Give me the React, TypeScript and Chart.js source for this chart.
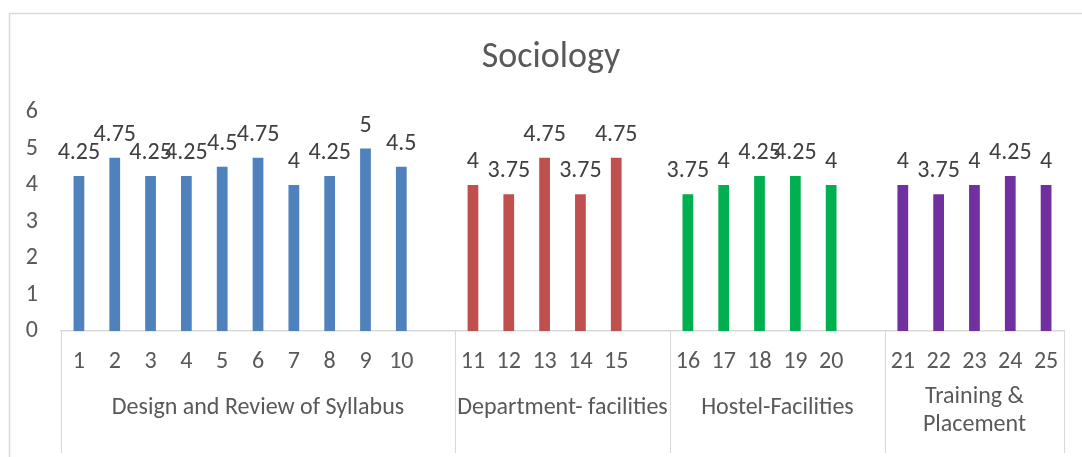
import React, { useEffect, useRef } from "react";
import { Chart, registerables } from "chart.js";

Chart.register(...registerables);

const FONT = "Carlito, Lato, sans-serif";

const chartTitle = "Sociology";
const groupLabels: string[][] = [
  ["Design and Review of Syllabus"],
  ["Department- facilities"],
  ["Hostel-Facilities"],
  ["Training &", "Placement"],
];
const designItems = ["1", "2", "3", "4", "5", "6", "7", "8", "9", "10"];
const departmentItems = ["11", "12", "13", "14", "15"];
const hostelItems = ["16", "17", "18", "19", "20"];
const trainingItems = ["21", "22", "23", "24", "25"];

const designValues = [4.25, 4.75, 4.25, 4.25, 4.5, 4.75, 4, 4.25, 5, 4.5];
const departmentValues = [4, 3.75, 4.75, 3.75, 4.75];
const hostelValues = [3.75, 4, 4.25, 4.25, 4];
const trainingValues = [4, 3.75, 4, 4.25, 4];

const groupColors = ["#4F81BD", "#C0504D", "#00B050", "#7030A0"];

const yMin = 0;
const yMax = 6;
const yStep = 1;

export default function App() {
  const ref = useRef<HTMLCanvasElement>(null);

  useEffect(() => {
    const canvas = ref.current;
    if (!canvas) return;
    const groupItems = [designItems, departmentItems, hostelItems, trainingItems];
    const groupValues = [designValues, departmentValues, hostelValues, trainingValues];
    const labels: string[] = [];
    const data: (number | null)[] = [];
    const colors: string[] = [];
    const ranges: { start: number; end: number }[] = [];
    groupValues.forEach((vals, g) => {
      const start = labels.length;
      vals.forEach((v, i) => {
        labels.push(groupItems[g][i]);
        data.push(v);
        colors.push(groupColors[g]);
      });
      if (g < groupValues.length - 1) {
        labels.push("");
        data.push(null);
        colors.push("rgba(0,0,0,0)");
      }
      ranges.push({ start, end: labels.length - 1 });
    });

    const decor = {
      id: "decor",
      afterDraw(chart: any) {
        const ctx = chart.ctx as CanvasRenderingContext2D;
        const xs = chart.scales.x;
        const area = chart.chartArea;
        ctx.save();
        // outer border
        ctx.strokeStyle = "#D9D9D9";
        ctx.lineWidth = 1.5;
        ctx.beginPath();
        ctx.moveTo(9.5, 457);
        ctx.lineTo(9.5, 13.5);
        ctx.lineTo(1082, 13.5);
        ctx.stroke();
        // title
        ctx.fillStyle = "#595959";
        ctx.font = `36px ${FONT}`;
        ctx.textAlign = "center";
        ctx.textBaseline = "alphabetic";
        ctx.fillText(chartTitle, 551, 67);
        // data labels
        const meta = chart.getDatasetMeta(0);
        ctx.fillStyle = "#404040";
        ctx.font = `24px ${FONT}`;
        meta.data.forEach((bar: any, i: number) => {
          const v = data[i];
          if (v == null) return;
          ctx.fillText(String(v), bar.x, bar.y - 17);
        });
        // separators and group labels
        const half = (xs.getPixelForValue(1) - xs.getPixelForValue(0)) / 2;
        ctx.strokeStyle = "#D9D9D9";
        ctx.lineWidth = 1;
        ctx.fillStyle = "#595959";
        ctx.textBaseline = "middle";
        ranges.forEach((r, g) => {
          const left = xs.getPixelForValue(r.start) - half;
          const right = xs.getPixelForValue(r.end) + half;
          ctx.beginPath();
          if (g === 0) {
            ctx.moveTo(Math.round(left) + 0.5, area.bottom);
            ctx.lineTo(Math.round(left) + 0.5, 453);
          }
          ctx.moveTo(Math.round(right) + 0.5, area.bottom);
          ctx.lineTo(Math.round(right) + 0.5, 453);
          ctx.stroke();
          const lines = groupLabels[g];
          const lh = 28;
          const cy = lines.length === 1 ? 408 : 411;
          lines.forEach((ln, k) => {
            ctx.fillText(ln, (left + right) / 2, cy + (k - (lines.length - 1) / 2) * lh);
          });
        });
        ctx.restore();
      },
    };

    const chart = new Chart(canvas, {
      type: "bar",
      data: {
        labels,
        datasets: [
          {
            data,
            backgroundColor: colors,
            barPercentage: 0.3,
            categoryPercentage: 1,
          },
        ],
      },
      options: {
        animation: false,
        responsive: false,
        maintainAspectRatio: false,
        layout: { padding: { top: 112, right: 18, bottom: 0, left: 0 } },
        plugins: {
          legend: { display: false },
          title: { display: false },
          tooltip: { enabled: false },
        },
        scales: {
          x: {
            grid: { display: false, drawTicks: false },
            border: { display: true, color: "#D9D9D9", width: 1.5 },
            ticks: {
              color: "#595959",
              font: { family: FONT, size: 24 },
              padding: 17,
              maxRotation: 0,
              autoSkip: false,
            },
            afterFit: (s: any) => {
              s.height = 126;
            },
          },
          y: {
            min: yMin,
            max: yMax,
            grid: { display: false, drawTicks: false },
            border: { display: false },
            ticks: {
              stepSize: yStep,
              color: "#595959",
              font: { family: FONT, size: 24 },
              padding: 23,
            },
            afterFit: (s: any) => {
              s.width = 61;
            },
          },
        },
      },
      plugins: [decor],
    });
    return () => chart.destroy();
  }, []);

  return (
    <div style={{ position: "absolute", left: 0, top: 0, width: 1082, height: 457, background: "#fff" }}>
      <canvas ref={ref} width={1082} height={457} style={{ display: "block" }} />
    </div>
  );
}
